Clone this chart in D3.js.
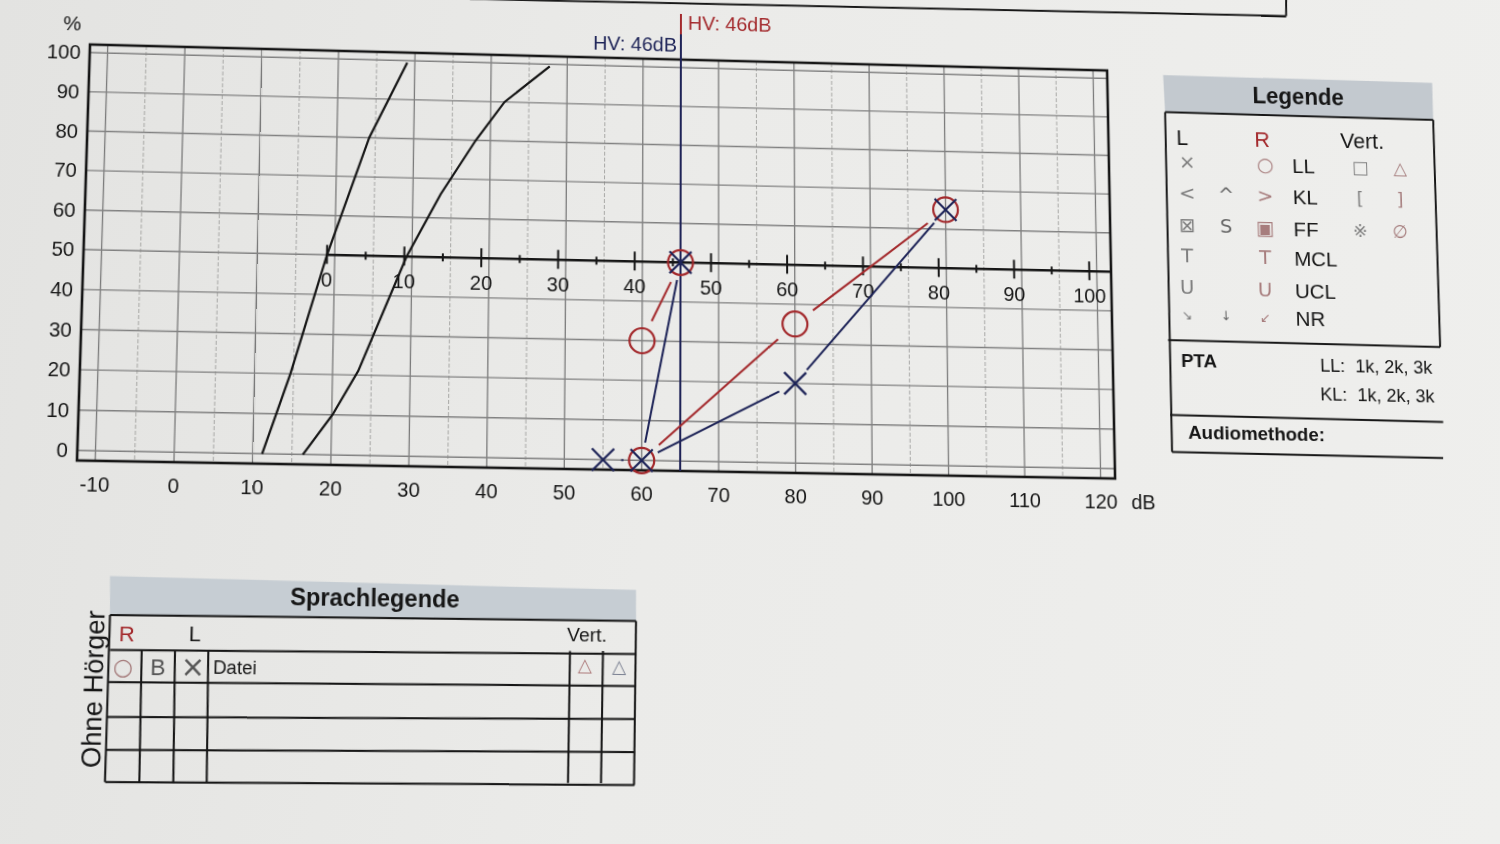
<!DOCTYPE html>
<html>
<head>
<meta charset="utf-8">
<script src="https://cdn.jsdelivr.net/npm/d3@7"></script>
<style>
  html, body { margin: 0; padding: 0; }
  body {
    width: 1500px; height: 844px; overflow: hidden;
    background: linear-gradient(100deg, #e3e3e1 0%, #ebebe9 45%, #efefed 100%);
  }
  #sheet { position: absolute; left: 0; top: 0; width: 1500px; height: 844px; transform-origin: 0 0; }
  #sheet svg { overflow: visible; font-family: "Liberation Sans", Arial, sans-serif; }
</style>
</head>
<body>
<div id="sheet"></div>
<script>
// ---- data -------------------------------------------------------------
const pctTicks = d3.range(0, 101, 10);
const dbTicks = d3.range(-10, 121, 10);
const hvTicks = d3.range(0, 101, 10);
const hvOffset = 19;      // dB level where HV 0 sits (50 % of the normal number curve)
const hvResult = 46;

// normal curves [dB, %]
const normNumbers = [[11.2, 0], [14.6, 20], [19, 50], [24.2, 80], [29, 99.5]];
const normWords = [[16.4, 0], [20.1, 10], [23.3, 21], [29.3, 50], [33.6, 66], [38.1, 80], [41.8, 90], [47.7, 99.5]];

// measured results (R = red circles, L = blue crosses)
const rightNumbers = [{db: 60, pct: 30}, {db: hvOffset + hvResult, pct: 50}];
const leftNumbers = [{db: 60, pct: 0}, {db: hvOffset + hvResult, pct: 50}];
const rightWords = [{db: 60, pct: 0}, {db: 80, pct: 35}, {db: 100, pct: 65}];
const leftWords = [{db: 55, pct: 0}, {db: 60, pct: 0}, {db: 80, pct: 20}, {db: 100, pct: 65}];

// legend contents
const legendRows = ["LL", "KL", "FF", "MCL", "UCL", "NR"];
const legendLeftSym = ["×", "<", "⊠", "T", "U", "↘"];
const legendMidSym = ["", "^", "S", "", "", "↓"];
const legendRightSym = ["○", ">", "▣", "T", "U", "↙"];
const legendVertL = ["□", "[", "※", "", "", ""];
const legendVertR = ["△", "]", "∅", "", "", ""];
const ptaLines = ["LL:  1k, 2k, 3k", "KL:  1k, 2k, 3k"];

// ---- colours ----------------------------------------------------------
const red = "#a3292c", blue = "#1d2357", ink = "#161616";

// ---- flat sheet + perspective of the photographed page ----------------
const frame = {left: 84, right: 1110, top: 58, bottom: 472};
const photoFrame = [[90, 44.5], [1107, 70.5], [1115, 478.5], [77, 460.5]];

function squareToQuad(q) {
  const [x0, y0] = q[0], [x1, y1] = q[1], [x2, y2] = q[2], [x3, y3] = q[3];
  const dx1 = x1 - x2, dx2 = x3 - x2, dx3 = x0 - x1 + x2 - x3;
  const dy1 = y1 - y2, dy2 = y3 - y2, dy3 = y0 - y1 + y2 - y3;
  const den = dx1 * dy2 - dx2 * dy1;
  const g = (dx3 * dy2 - dx2 * dy3) / den;
  const h = (dx1 * dy3 - dx3 * dy1) / den;
  return [[x1 - x0 + g * x1, x3 - x0 + h * x3, x0],
          [y1 - y0 + g * y1, y3 - y0 + h * y3, y0],
          [g, h, 1]];
}
function mul(a, b) {
  return a.map(r => [0, 1, 2].map(j => r[0] * b[0][j] + r[1] * b[1][j] + r[2] * b[2][j]));
}
function inv(m) {
  const [a, b, c] = m[0], [d, e, f] = m[1], [g, h, k] = m[2];
  const A = e * k - f * h, B = -(d * k - f * g), C = d * h - e * g;
  const det = a * A + b * B + c * C;
  return [[A / det, -(b * k - c * h) / det, (b * f - c * e) / det],
          [B / det, (a * k - c * g) / det, -(a * f - c * d) / det],
          [C / det, -(a * h - b * g) / det, (a * e - b * d) / det]];
}
function apply(m, p) {
  const w = m[2][0] * p[0] + m[2][1] * p[1] + m[2][2];
  return [(m[0][0] * p[0] + m[0][1] * p[1] + m[0][2]) / w,
          (m[1][0] * p[0] + m[1][1] * p[1] + m[1][2]) / w];
}
const fw = frame.right - frame.left, fh = frame.bottom - frame.top;
const toUnit = [[1 / fw, 0, -frame.left / fw], [0, 1 / fh, -frame.top / fh], [0, 0, 1]];
const Hm = mul(squareToQuad(photoFrame), toUnit);
const Hinv = inv(Hm);
const P = (px, py) => apply(Hinv, [px, py]);   // page position -> sheet position

d3.select("#sheet").style("transform",
  `matrix3d(${Hm[0][0]},${Hm[1][0]},0,${Hm[2][0]},${Hm[0][1]},${Hm[1][1]},0,${Hm[2][1]},0,0,1,0,${Hm[0][2]},${Hm[1][2]},0,${Hm[2][2]})`);

const svg = d3.select("#sheet").append("svg").attr("width", 1500).attr("height", 844);

// ---- scales -----------------------------------------------------------
const x = d3.scaleLinear().domain([-12.3, 121.9]).range([frame.left, frame.right]);
const y = d3.scaleLinear().domain([-2.45, 102.1]).range([frame.bottom, frame.top]);
const hv = v => x(v + hvOffset);

// ---- grid -------------------------------------------------------------
const plot = svg.append("g");
plot.selectAll("line.vgrid").data(d3.range(-10, 121, 5)).join("line")
  .attr("class", "vgrid")
  .attr("x1", d => x(d)).attr("x2", d => x(d))
  .attr("y1", frame.top).attr("y2", frame.bottom)
  .attr("stroke", d => d % 10 === 0 ? "#7b7b7b" : "#a8a8a6")
  .attr("stroke-width", d => d % 10 === 0 ? 1.3 : 1)
  .attr("stroke-dasharray", d => d % 10 === 0 ? null : "4 2");

plot.selectAll("line.hgrid").data(pctTicks).join("line")
  .attr("class", "hgrid")
  .attr("x1", frame.left).attr("x2", frame.right)
  .attr("y1", d => y(d)).attr("y2", d => y(d))
  .attr("stroke", "#818181").attr("stroke-width", 1.4);

plot.append("rect")
  .attr("x", frame.left).attr("y", frame.top).attr("width", fw).attr("height", fh)
  .attr("fill", "none").attr("stroke", ink).attr("stroke-width", 2.6);

// axis labels
plot.selectAll("text.ylab").data(pctTicks).join("text")
  .attr("class", "ylab")
  .attr("x", frame.left - 9).attr("y", d => y(d))
  .attr("text-anchor", "end").attr("dominant-baseline", "central")
  .attr("font-size", 20).attr("fill", ink).text(d => d);
plot.append("text").attr("x", frame.left - 18).attr("y", y(100) - 29)
  .attr("text-anchor", "middle").attr("dominant-baseline", "central")
  .attr("font-size", 20).attr("fill", ink).text("%");

plot.selectAll("text.xlab").data(dbTicks).join("text")
  .attr("class", "xlab")
  .attr("x", d => x(d)).attr("y", frame.bottom + 23)
  .attr("text-anchor", "middle").attr("dominant-baseline", "central")
  .attr("font-size", 20).attr("fill", ink).text(d => d);
plot.append("text").attr("x", frame.right + 16).attr("y", frame.bottom + 23)
  .attr("dominant-baseline", "central").attr("font-size", 20).attr("fill", ink).text("dB");

// ---- HV axis (number test) -------------------------------------------
const axisY = y(50);
plot.append("line")
  .attr("x1", hv(0)).attr("x2", frame.right).attr("y1", axisY).attr("y2", axisY)
  .attr("stroke", ink).attr("stroke-width", 2.6);
plot.selectAll("line.hvtick").data(d3.range(0, 101, 5)).join("line")
  .attr("class", "hvtick")
  .attr("x1", d => hv(d)).attr("x2", d => hv(d))
  .attr("y1", d => axisY - (d % 10 === 0 ? 10 : 4))
  .attr("y2", d => axisY + (d % 10 === 0 ? 9 : 4))
  .attr("stroke", ink).attr("stroke-width", 2);
plot.selectAll("text.hvlab").data(hvTicks).join("text")
  .attr("class", "hvlab")
  .attr("x", d => hv(d)).attr("y", axisY + 25)
  .attr("text-anchor", "middle").attr("dominant-baseline", "central")
  .attr("font-size", 20).attr("fill", ink).text(d => d);

// ---- normal curves ----------------------------------------------------
const curve = d3.line().x(d => x(d[0])).y(d => y(d[1]));
[normNumbers, normWords].forEach(c => {
  plot.append("path").attr("d", curve(c))
    .attr("fill", "none").attr("stroke", ink).attr("stroke-width", 2.2);
});

// ---- HV marker line ---------------------------------------------------
const hvX = hv(hvResult);
plot.append("line").attr("x1", hvX).attr("x2", hvX)
  .attr("y1", frame.top - 47).attr("y2", frame.bottom)
  .attr("stroke", red).attr("stroke-width", 2);
plot.append("line").attr("x1", hvX).attr("x2", hvX)
  .attr("y1", frame.top - 26).attr("y2", frame.bottom)
  .attr("stroke", blue).attr("stroke-width", 2);
plot.append("text").attr("x", hvX + 7).attr("y", frame.top - 31)
  .attr("font-size", 20).attr("fill", red).text(`HV: ${hvResult}dB`);
plot.append("text").attr("x", hvX - 4).attr("y", frame.top - 8)
  .attr("text-anchor", "end").attr("font-size", 20).attr("fill", blue).text(`HV: ${hvResult}dB`);

// ---- results ----------------------------------------------------------
function drawSeries(data, color, gap) {
  const segs = d3.pairs(data).map(([a, b]) => {
    const x1 = x(a.db), y1 = y(a.pct), x2 = x(b.db), y2 = y(b.pct);
    const len = Math.hypot(x2 - x1, y2 - y1);
    const ux = (x2 - x1) / len, uy = (y2 - y1) / len;
    return {x1: x1 + ux * gap, y1: y1 + uy * gap, x2: x2 - ux * gap, y2: y2 - uy * gap, len};
  }).filter(s => s.len > 2 * gap);
  plot.append("g").selectAll("line").data(segs).join("line")
    .attr("x1", d => d.x1).attr("y1", d => d.y1).attr("x2", d => d.x2).attr("y2", d => d.y2)
    .attr("stroke", color).attr("stroke-width", 2);
}
drawSeries(rightNumbers, red, 22);
drawSeries(rightWords, red, 23);
drawSeries(leftNumbers, blue, 18);
drawSeries(leftWords, blue, 18);

const uniq = arr => Array.from(new Map(arr.map(d => [d.db + "|" + d.pct, d])).values());
plot.append("g").selectAll("circle").data(uniq(rightNumbers.concat(rightWords))).join("circle")
  .attr("cx", d => x(d.db)).attr("cy", d => y(d.pct)).attr("r", 12.5)
  .attr("fill", "none").attr("stroke", red).attr("stroke-width", 2.2);
plot.append("g").selectAll("path").data(uniq(leftNumbers.concat(leftWords))).join("path")
  .attr("transform", d => `translate(${x(d.db)},${y(d.pct)})`)
  .attr("d", "M-11,-11L11,11M-11,11L11,-11")
  .attr("fill", "none").attr("stroke", blue).attr("stroke-width", 2.2);

// ---- helpers for the printed boxes (placed by page position) ----------
function seg(g, a, b, w) {
  const p1 = P(a[0], a[1]), p2 = P(b[0], b[1]);
  g.append("line").attr("x1", p1[0]).attr("y1", p1[1]).attr("x2", p2[0]).attr("y2", p2[1])
    .attr("stroke", ink).attr("stroke-width", w || 2);
}
function poly(g, pts, fill) {
  g.append("path").attr("d", d3.line()(pts.map(p => P(p[0], p[1]))) + "Z").attr("fill", fill);
}
function label(g, px, py, txt, size, color, opts) {
  const [fx, fy] = P(px, py);
  const o = opts || {};
  const t = g.append("text").attr("x", fx).attr("y", fy)
    .attr("font-size", size).attr("fill", color)
    .attr("text-anchor", o.anchor || "middle").attr("dominant-baseline", "central")
    .attr("font-weight", o.bold ? "bold" : null)
    .attr("xml:space", "preserve").text(txt);
  if (o.rotate) t.attr("transform", `rotate(${o.rotate},${fx},${fy})`);
  if (o.family) t.attr("font-family", o.family);
  return t;
}

// box above the chart (only its lower edge is in view)
const topBox = svg.append("g");
seg(topBox, [470, -1], [1286, 16], 2);
seg(topBox, [1286, 16], [1286, -10], 2);

// ---- Legende ----------------------------------------------------------
const leg = svg.append("g");
poly(leg, [[1163, 75], [1432, 83], [1433, 120], [1165, 112]], "#c3c9cf");
label(leg, 1298, 97, "Legende", 23, ink, {bold: true});
seg(leg, [1165, 112], [1433, 120]);
seg(leg, [1433, 120], [1440, 347]);
seg(leg, [1165, 112], [1172, 452]);
seg(leg, [1168, 340], [1440, 347]);
seg(leg, [1170, 415], [1443, 422]);
seg(leg, [1172, 452], [1443, 458]);

label(leg, 1182, 138, "L", 22, ink);
label(leg, 1262, 140, "R", 22, red);
label(leg, 1362, 141, "Vert.", 22, ink);

const rowY = [162, 193, 225, 255, 287, 315];
const rowAt = (i, px) => rowY[i] + (px - 1187) * 0.03;
const symFont = '"DejaVu Sans", sans-serif';
legendRows.forEach((r, i) => {
  const small = i === 5;
  label(leg, 1187, rowAt(i, 1187), legendLeftSym[i], small ? 13 : 20, "#7d7d7d", {family: symFont});
  label(leg, 1226, rowAt(i, 1226), legendMidSym[i], small ? 13 : 20, "#666", {family: symFont});
  label(leg, 1265, rowAt(i, 1265), legendRightSym[i], small ? 13 : 20, "#a77d7d", {family: symFont});
  label(leg, 1292 + i * 0.7, rowAt(i, 1300), r, 21, ink, {anchor: "start"});
  label(leg, 1360, rowAt(i, 1360), legendVertL[i], 18, "#808080", {family: symFont});
  label(leg, 1400, rowAt(i, 1400), legendVertR[i], 18, "#a78080", {family: symFont});
});

label(leg, 1181, 360, "PTA", 19, ink, {anchor: "start", bold: true});
ptaLines.forEach((t, i) => label(leg, 1320, 365 + i * 29, t, 18.5, ink, {anchor: "start"}));
label(leg, 1188, 432, "Audiomethode:", 19, ink, {anchor: "start", bold: true});

// ---- Sprachlegende ----------------------------------------------------
const sp = svg.append("g");
poly(sp, [[110, 576], [636, 590], [636, 621], [110, 615]], "#c6cdd3");
label(sp, 375, 598, "Sprachlegende", 23, ink, {bold: true});
seg(sp, [110, 615], [636, 621]);
seg(sp, [110, 615], [105, 782]);
seg(sp, [636, 621], [634, 785]);
[[650, 654], [682, 686], [717, 719], [750, 752], [782, 785]].forEach(([l, r], i) => {
  seg(sp, [110 - i * 1.2, l], [636 - i * 0.4, r]);
});
[[141.7, 139.3], [175, 173.3], [208.3, 206.7], [570, 568], [603, 601]].forEach(([t, b]) => {
  seg(sp, [t, 651], [b, 783]);
});
label(sp, 127, 633, "R", 21, red);
label(sp, 195, 633, "L", 21, ink);
label(sp, 587, 635, "Vert.", 19, ink);
label(sp, 123, 667, "○", 22, "#a47a7a", {family: symFont});
label(sp, 158, 667, "B", 22, "#555");
label(sp, 193, 667, "×", 28, "#555", {family: symFont});
label(sp, 213, 668, "Datei", 18, ink, {anchor: "start"});
label(sp, 585, 665, "△", 18, "#b07f7f", {family: symFont});
label(sp, 619, 666, "△", 18, "#7d8394", {family: symFont});
label(sp, 93, 689, "Ohne Hörger", 26, ink, {rotate: -90});
</script>
</body>
</html>
